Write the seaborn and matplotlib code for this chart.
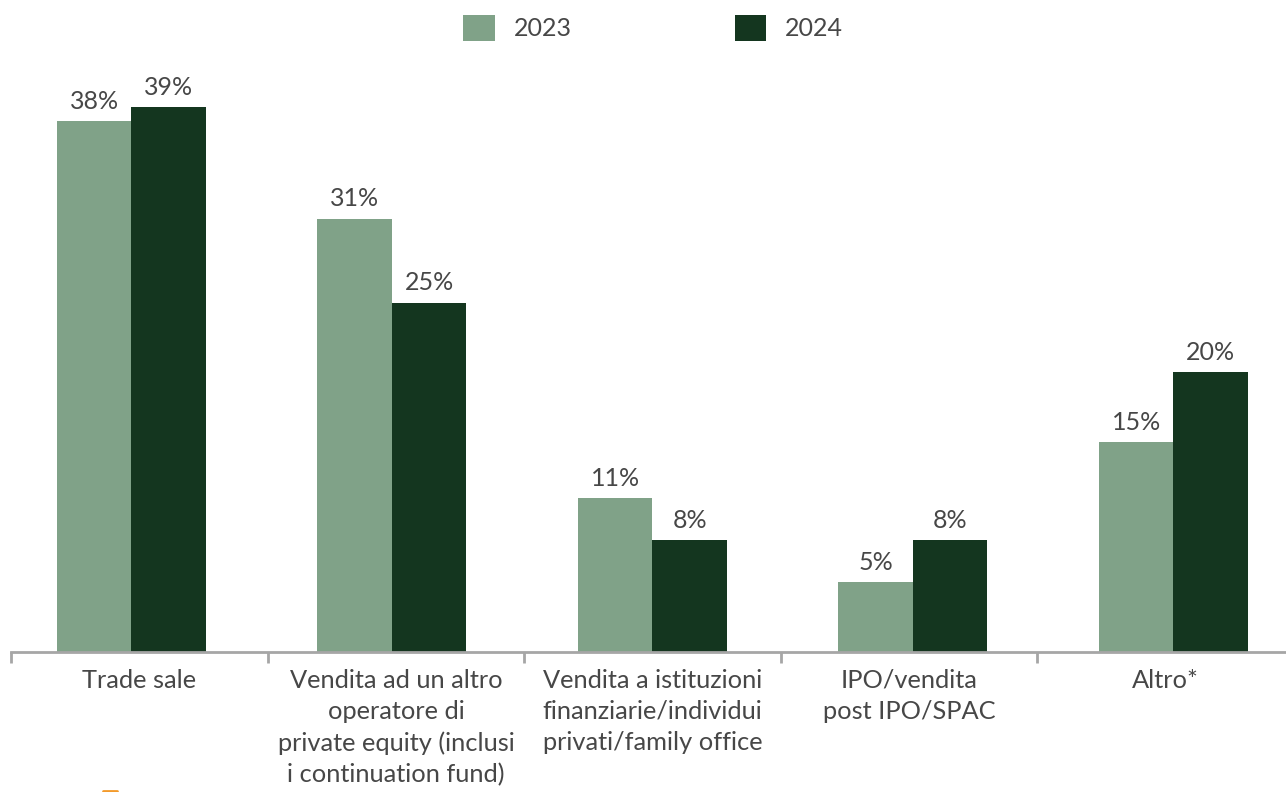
import pandas as pd
import seaborn as sns
from matplotlib import pyplot as plt
from matplotlib.lines import Line2D

# Data
categories = [
    "Trade sale",
    "Vendita ad un altro\noperatore di\nprivate equity (inclusi\ni continuation fund)",
    "Vendita a istituzioni\nfinanziarie/individui\nprivati/family office",
    "IPO/vendita\npost IPO/SPAC",
    "Altro*",
]
years = ["2023", "2024"]
values_2023 = [38, 31, 11, 5, 15]
values_2024 = [39, 25, 8, 8, 20]

colors = {"2023": "#80A288", "2024": "#14361F"}
text_color = "#474747"
axis_color = "#A6A6A6"

df = pd.DataFrame({
    "categoria": categories * 2,
    "anno": ["2023"] * len(categories) + ["2024"] * len(categories),
    "valore": values_2023 + values_2024,
})

sns.set_theme(style="white")
plt.rcParams['font.family'] = ['Lato', 'DejaVu Sans']

fig = plt.figure(figsize=(12.86, 7.92), dpi=100)
ax = fig.add_axes([0, 140 / 792, 1, 587 / 792])

sns.barplot(data=df, x="categoria", y="valore", hue="anno", palette=colors,
            width=0.572, gap=0, saturation=1, linewidth=0, ax=ax, legend=True)

ax.set_xlim(-0.5048, 4.4319)
ax.set_ylim(0, 42)

# Value labels
for container in ax.containers:
    ax.bar_label(container, fmt="%d%%", padding=6, fontsize=18, color=text_color)

# Axes styling
for side in ["top", "right", "left"]:
    ax.spines[side].set_visible(False)
ax.spines["bottom"].set_color(axis_color)
ax.spines["bottom"].set_linewidth(2)
ax.spines["bottom"].set_bounds(-0.4626, 4.4319)
ax.set_yticks([])
ax.set_xlabel("")
ax.set_ylabel("")

# category separators and centred labels
bounds = [-0.4626 + 0.985 * k for k in range(len(categories) + 1)]
centers = [(a + b) / 2 for a, b in zip(bounds[:-1], bounds[1:])]
ax.set_xticks(centers)
ax.set_xticklabels(categories, fontsize=18.3, color=text_color, linespacing=1.43)
ax.tick_params(axis="x", which="major", length=0, pad=12)
ax.set_xticks(bounds[:-1], minor=True)
ax.tick_params(axis="x", which="minor", length=8, width=2, color=axis_color,
               direction="out", bottom=True)

# Legend
handles, labels = ax.get_legend_handles_labels()
ax.legend(handles, labels, loc="upper center", bbox_to_anchor=(0.508, 660 / 587),
          ncol=2, frameon=False, fontsize=18, handlelength=1.25, handleheight=1.25,
          handletextpad=0.75, columnspacing=6.55, labelcolor=text_color)

# Small orange mark at the bottom
fig.add_artist(Line2D([103 / 1286, 117 / 1286], [1.5 / 792, 1.5 / 792],
                      color="#F39A2B", linewidth=2, transform=fig.transFigure))

plt.savefig("out.png", dpi=100)
plt.close()
